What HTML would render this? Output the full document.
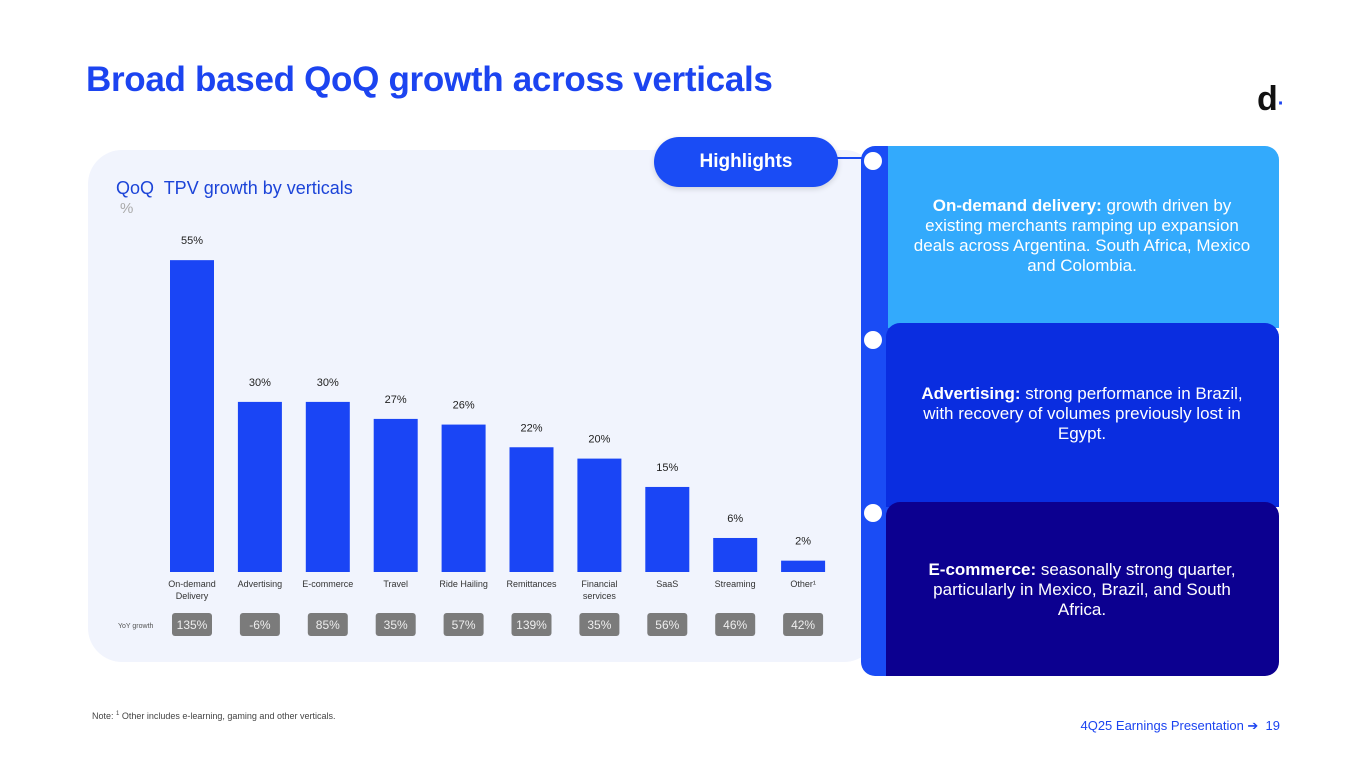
<!DOCTYPE html>
<html><head><meta charset="utf-8"><style>
body{margin:0;width:1365px;height:768px;background:#fff;position:relative;overflow:hidden;font-family:"Liberation Sans",sans-serif}
.abs{position:absolute}
.t{color:#fff;font-size:17px;line-height:20px;text-align:center}
</style></head><body>
<div class="abs" style="left:86px;top:60px;font-size:35px;font-weight:bold;color:#1c44f0;letter-spacing:-0.3px">Broad based QoQ growth across verticals</div>
<div class="abs" style="left:1257px;top:80px;font-size:34px;font-weight:bold;color:#111">d<span style="color:#1c44f0;font-size:20px">·</span></div>
<div class="abs" style="left:88px;top:150px;width:790px;height:512px;background:#f1f4fd;border-radius:34px"></div>
<div class="abs" style="left:116px;top:178px;font-size:18px;color:#1c44d8">QoQ&nbsp; TPV growth by verticals</div>
<div class="abs" style="left:120px;top:200px;font-size:15px;color:#aaa">%</div>
<svg class="abs" id="chart" style="left:0;top:0" width="870" height="660"></svg>
<div class="abs" style="left:861px;top:146px;width:40px;height:530px;background:#1a4cf5;border-radius:14px"></div>
<div class="abs" style="left:888px;top:146px;width:391px;height:182px;background:#33aafc;border-radius:0 14px 0 0"></div>
<div class="abs" style="left:886px;top:323px;width:393px;height:184px;background:#0a2de0;border-radius:14px 14px 0 0"></div>
<div class="abs" style="left:886px;top:502px;width:393px;height:174px;background:#0c0090;border-radius:14px 14px 14px 0"></div>
<div class="abs t" style="left:909px;top:196px;width:346px"><b>On-demand delivery:</b> growth driven by existing merchants ramping up expansion deals across Argentina. South Africa, Mexico and Colombia.</div>
<div class="abs t" style="left:906px;top:384px;width:352px"><b>Advertising:</b> strong performance in Brazil, with recovery of volumes previously lost in Egypt.</div>
<div class="abs t" style="left:912px;top:560px;width:340px"><b>E-commerce:</b> seasonally strong quarter, particularly in Mexico, Brazil, and South Africa.</div>
<div class="abs" style="left:864px;top:152px;width:18px;height:18px;border-radius:50%;background:#fff"></div>
<div class="abs" style="left:864px;top:331px;width:18px;height:18px;border-radius:50%;background:#fff"></div>
<div class="abs" style="left:864px;top:504px;width:18px;height:18px;border-radius:50%;background:#fff"></div>
<div class="abs" style="left:836px;top:157px;width:28px;height:2px;background:#1a4cf5"></div>
<div class="abs" style="left:654px;top:137px;width:184px;height:50px;border-radius:25px;background:#1a4cf5;color:#fff;font-weight:bold;font-size:19px;line-height:50px;text-align:center;box-shadow:0 2px 6px rgba(0,0,0,.15)">Highlights</div>
<div class="abs" style="left:92px;top:711px;font-size:9px;color:#444">Note: <sup style="font-size:6px">1</sup> Other includes e-learning, gaming and other verticals.</div>
<div class="abs" style="left:1080px;top:718px;width:200px;text-align:right;font-size:13px;color:#1c44f0">4Q25 Earnings Presentation ➔ &nbsp;19</div>
<script>
const categories=["On-demand|Delivery","Advertising","E-commerce","Travel","Ride Hailing","Remittances","Financial|services","SaaS","Streaming","Other¹"];
const qoqValues=[55,30,30,27,26,22,20,15,6,2];
const yoyLabels=["135%","-6%","85%","35%","57%","139%","35%","56%","46%","42%"];
const svg=document.getElementById('chart');const NS='http://www.w3.org/2000/svg';
const x0=192,step=67.9,base=572,scale=5.67,bw=44;
const xPos=i=>x0+i*step, yPos=v=>base-v*scale;
function mk(t,a,txt){const e=document.createElementNS(NS,t);for(const k in a)e.setAttribute(k,a[k]);if(txt!=null)e.textContent=txt;svg.appendChild(e);return e;}
const yl=mk('text',{x:118,y:628,'font-size':7,fill:'#555','font-family':'Liberation Sans'},'YoY growth');


qoqValues.forEach((v,i)=>{const cx=xPos(i);
const r=mk('rect',{x:cx-bw/2,y:yPos(v),width:bw,height:v*scale,fill:'#1a45f5'});


const l=mk('text',{x:cx,y:yPos(v)-16,'text-anchor':'middle','font-size':11,fill:'#222','font-family':'Liberation Sans'},v+'%');


categories[i].split('|').forEach((s,j)=>{const c=mk('text',{x:cx,y:587+j*12,'text-anchor':'middle','font-size':9,fill:'#333','font-family':'Liberation Sans'},s);

});
const p=mk('rect',{x:cx-20,y:613,width:40,height:23,rx:3,fill:'#7b7b7b'});


const pt=mk('text',{x:cx,y:629,'text-anchor':'middle','font-size':12,fill:'#eee','font-family':'Liberation Sans'},yoyLabels[i]);


});
</script>
</body></html>
